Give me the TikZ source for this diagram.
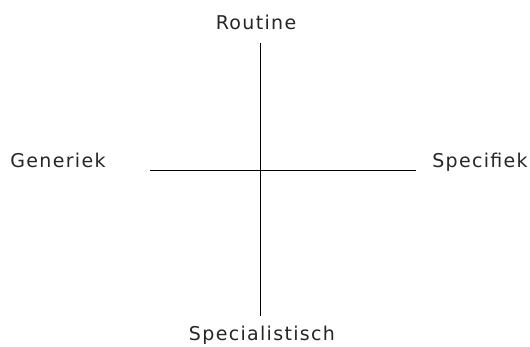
\documentclass[tikz,border=0pt]{standalone}
\usepackage{fontspec}
\setmainfont{DejaVu Sans}[LetterSpace=7]
\begin{document}
\begin{tikzpicture}[x=1pt,y=-1pt,
  lbl/.style={font=\fontsize{19}{22}\selectfont, text=black!85, inner sep=0pt, anchor=base},
  axis/.style={line width=1.3pt, draw=black}]
\useasboundingbox[fill=white] (0,0) rectangle (530,347);
\coordinate (top) at (260.5,43);
\coordinate (bot) at (260.5,316);
\coordinate (lft) at (150,170.5);
\coordinate (rgt) at (416,170.5);
\draw[axis] (top) -- (bot);
\draw[axis] (lft) -- (rgt);
\node[lbl] (r) at (256,30) {Routine};
\node[lbl] (g) at (58,168) {Generiek};
\node[lbl] (s) at (480,168) {Specifiek};
\node[lbl] (sp) at (262,340) {Specialistisch};
\end{tikzpicture}
\end{document}
